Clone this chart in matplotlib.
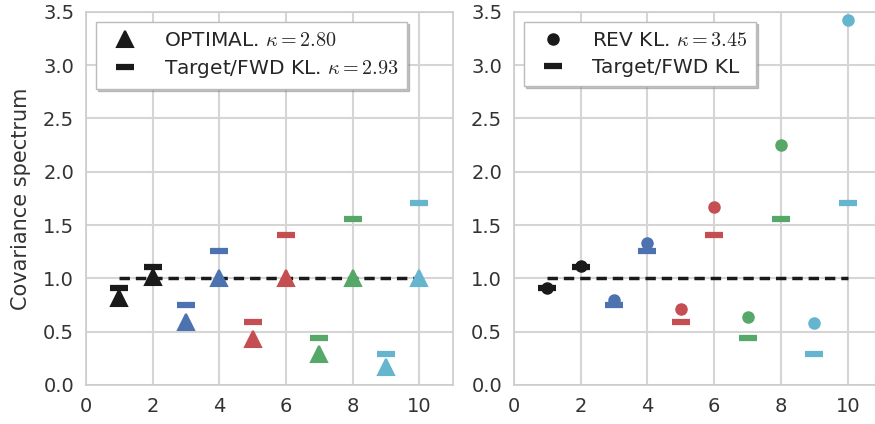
import numpy as np
import matplotlib
matplotlib.use('Agg')
import matplotlib.pyplot as plt
import seaborn as sns

# eigen-index of each point
idx = [1, 2, 3, 4, 5, 6, 7, 8, 9, 10]

# spectrum values
target = [0.91, 1.11, 0.75, 1.26, 0.59, 1.41, 0.44, 1.56, 0.29, 1.71]
optimal = [0.82, 1.01, 0.59, 1.00, 0.43, 1.00, 0.29, 1.00, 0.17, 1.00]
rev_kl = [0.91, 1.12, 0.80, 1.33, 0.71, 1.67, 0.64, 2.25, 0.58, 3.42]

kappa_opt = '2.80'
kappa_fwd = '2.93'
kappa_rev = '3.45'

sns.set_style('whitegrid')
plt.rcParams['font.family'] = ['DejaVu Sans']
plt.rcParams['mathtext.fontset'] = 'cm'

black = '#1a1a1a'
pal = ['#4C72B0', '#C44E52', '#55A868', '#64B5CD']
# pairs of points share a colour
colors = [black, black] + [c for c in pal for _ in range(2)]

fig = plt.figure(figsize=(8.75, 4.24), dpi=100)
ax1 = fig.add_axes([0.0983, 0.092, 0.419, 0.88])
ax2 = fig.add_axes([0.5874, 0.092, 0.4196, 0.88])

for ax in (ax1, ax2):
    ax.plot([idx[0], idx[-1]], [1, 1], color=black, lw=2.5, ls='--',
            dashes=(3, 1.7), zorder=2)
    for i in range(len(idx)):
        ax.plot(idx[i], target[i], '_', color=colors[i], ms=13, mew=4.5,
                zorder=3)
    ax.set_xlim(0, 11)
    ax.set_ylim(0, 3.5)
    ax.set_xticks([0, 2, 4, 6, 8, 10])
    ax.set_yticks(np.arange(0, 3.51, 0.5))
    ax.tick_params(labelsize=14, colors='#333333', pad=5)
    for s in ax.spines.values():
        s.set_color('#cccccc')
        s.set_linewidth(1.2)
    ax.grid(color='#d5d5d5', lw=1.5)

for i in range(len(idx)):
    ax1.plot(idx[i], optimal[i], '^', color=colors[i], ms=12, mew=1.5,
             zorder=4)
    ax2.plot(idx[i], rev_kl[i], 'o', color=colors[i], ms=8, mew=1,
             zorder=4)

ax1.set_ylabel('Covariance spectrum', fontsize=15, color='#333333',
               labelpad=9)

shadow = {'ox': 1.5, 'oy': -1.5, 'shade': 0.45}

# legend proxies in black
h1, = ax1.plot([], [], '^', color=black, ms=12, mew=1.5,
               label=r'OPTIMAL. $\kappa = %s$' % kappa_opt)
h2, = ax1.plot([], [], '_', color=black, ms=13, mew=4.5,
               label=r'Target/FWD KL. $\kappa = %s$' % kappa_fwd)
leg = ax1.legend(handles=[h1, h2], loc='upper left', numpoints=1,
                 frameon=True, shadow=shadow, fancybox=False,
                 fontsize=14.5, borderpad=0.45, handletextpad=0.9,
                 labelspacing=0.4)
leg.get_frame().set_edgecolor('#bbbbbb')
leg.get_frame().set_facecolor('white')

h3, = ax2.plot([], [], 'o', color=black, ms=8,
               label=r'REV KL. $\kappa = %s$' % kappa_rev)
h4, = ax2.plot([], [], '_', color=black, ms=13, mew=4.5,
               label='Target/FWD KL')
leg = ax2.legend(handles=[h3, h4], loc='upper left', numpoints=1,
                 frameon=True, shadow=shadow, fancybox=False,
                 fontsize=14.5, borderpad=0.45, handletextpad=0.9,
                 labelspacing=0.4)
leg.get_frame().set_edgecolor('#bbbbbb')
leg.get_frame().set_facecolor('white')

fig.savefig('out.png', dpi=100)
